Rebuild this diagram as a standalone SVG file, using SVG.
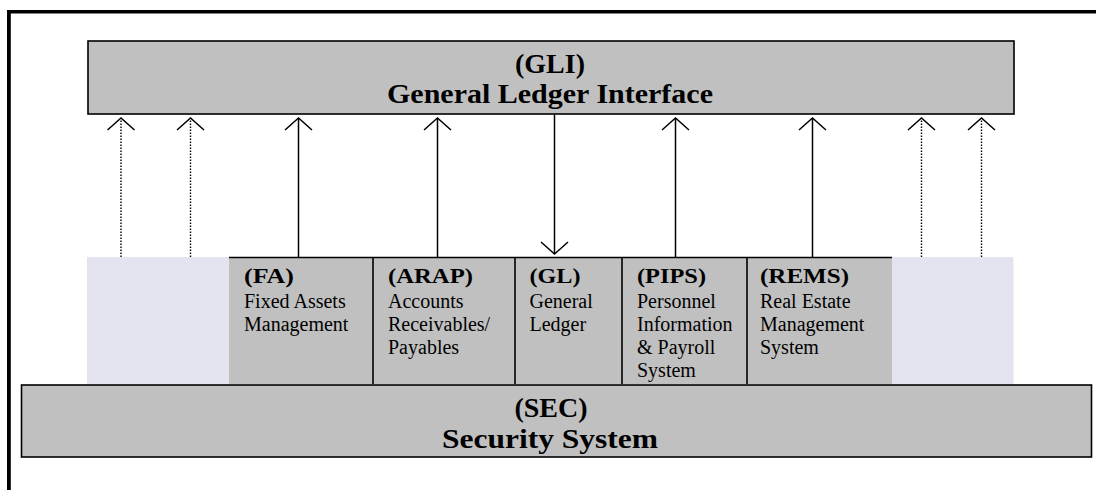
<svg xmlns="http://www.w3.org/2000/svg" width="1096" height="490" viewBox="0 0 1096 490">
  <style>
    .box { fill: #c0c0c0; stroke: #000; stroke-width: 1.6; }
    .cell { fill: #c0c0c0; }
    .spare { fill: #e4e4f0; }
    .rule { stroke: #000; stroke-width: 1.6; fill: none; }
    .big { font-family: "Liberation Serif", "Times New Roman", serif; font-weight: bold; font-size: 28px; fill: #000; text-anchor: middle; }
    .code { font-family: "Liberation Serif", "Times New Roman", serif; font-weight: bold; font-size: 20px; fill: #000; }
    .desc { font-family: "Liberation Serif", "Times New Roman", serif; font-size: 20px; fill: #000; }
    .link { stroke: #000; stroke-width: 1.5; fill: none; marker-end: url(#chevron); }
    .dotted { stroke-dasharray: 1.5 1.5; stroke-width: 1.4; }
  </style>
  <defs>
    <marker id="chevron" markerUnits="userSpaceOnUse" viewBox="-14 -15 16 30" refX="0" refY="0" markerWidth="16" markerHeight="30" orient="auto" overflow="visible">
      <path d="M -12 -13.5 L 0 0 L -12 13.5" fill="none" stroke="#000" stroke-width="1.5"/>
    </marker>
  </defs>

  <rect width="1096" height="490" fill="#fff"/>

  <!-- page frame: top and left rules -->
  <rect x="7" y="10" width="1089" height="3.5" fill="#000"/>
  <rect x="7" y="10" width="3.8" height="480" fill="#000"/>

  <!-- General Ledger Interface -->
  <g id="gli">
    <rect class="box" x="88" y="41" width="926" height="73"/>
    <text class="big" x="550" y="73">(GLI)</text>
    <text class="big" x="550" y="103" textLength="326" lengthAdjust="spacingAndGlyphs">General Ledger Interface</text>
  </g>

  <!-- unused slots either side of the module row -->
  <g id="slot-left">
    <rect class="spare" x="87" y="257" width="142" height="127"/>
  </g>
  <g id="slot-right">
    <rect class="spare" x="892" y="257" width="121.5" height="127"/>
  </g>

  <!-- module row -->
  <g id="fa">
    <rect class="cell" x="229" y="257" width="144" height="127"/>
    <text class="code" x="244" y="283" textLength="50" lengthAdjust="spacingAndGlyphs">(FA)</text>
    <text class="desc" x="244" y="307.5">Fixed Assets</text>
    <text class="desc" x="244" y="330.5">Management</text>
  </g>
  <g id="arap">
    <rect class="cell" x="373" y="257" width="142" height="127"/>
    <text class="code" x="388" y="283" textLength="85" lengthAdjust="spacingAndGlyphs">(ARAP)</text>
    <text class="desc" x="388" y="307.5">Accounts</text>
    <text class="desc" x="388" y="330.5">Receivables/</text>
    <text class="desc" x="388" y="353.5">Payables</text>
  </g>
  <g id="gl">
    <rect class="cell" x="515" y="257" width="107" height="127"/>
    <text class="code" x="529.5" y="283" textLength="51" lengthAdjust="spacingAndGlyphs">(GL)</text>
    <text class="desc" x="529.5" y="307.5">General</text>
    <text class="desc" x="529.5" y="330.5">Ledger</text>
  </g>
  <g id="pips">
    <rect class="cell" x="622" y="257" width="125" height="127"/>
    <text class="code" x="637" y="283" textLength="69" lengthAdjust="spacingAndGlyphs">(PIPS)</text>
    <text class="desc" x="637" y="307.5">Personnel</text>
    <text class="desc" x="637" y="330.5">Information</text>
    <text class="desc" x="637" y="353.5">&amp; Payroll</text>
    <text class="desc" x="637" y="376.5">System</text>
  </g>
  <g id="rems">
    <rect class="cell" x="747" y="257" width="145" height="127"/>
    <text class="code" x="760" y="283" textLength="89" lengthAdjust="spacingAndGlyphs">(REMS)</text>
    <text class="desc" x="760" y="307.5">Real Estate</text>
    <text class="desc" x="760" y="330.5">Management</text>
    <text class="desc" x="760" y="353.5">System</text>
  </g>

  <!-- module row rules: top edge and dividers -->
  <g id="row-rules">
    <path class="rule" d="M229 257.5 H892 M373 257 V384 M515 257 V384 M622 257 V384 M747 257 V384"/>
  </g>

  <!-- Security System -->
  <g id="sec">
    <rect class="box" x="21.5" y="385" width="1070" height="72"/>
    <text class="big" x="551" y="417">(SEC)</text>
    <text class="big" x="550" y="448" textLength="216" lengthAdjust="spacingAndGlyphs">Security System</text>
  </g>

  <!-- connectors -->
  <g id="connectors">
    <path class="link dotted" d="M121 257 V118"/>
    <path class="link dotted" d="M190.5 257 V118"/>
    <path class="link" d="M298.5 257 V118"/>
    <path class="link" d="M437.5 257 V118"/>
    <path class="link" d="M554.5 114.5 V254"/>
    <path class="link" d="M675.5 257 V118"/>
    <path class="link" d="M812.5 257 V118"/>
    <path class="link dotted" d="M921.5 257 V118"/>
    <path class="link dotted" d="M981.5 257 V118"/>
  </g>
</svg>
